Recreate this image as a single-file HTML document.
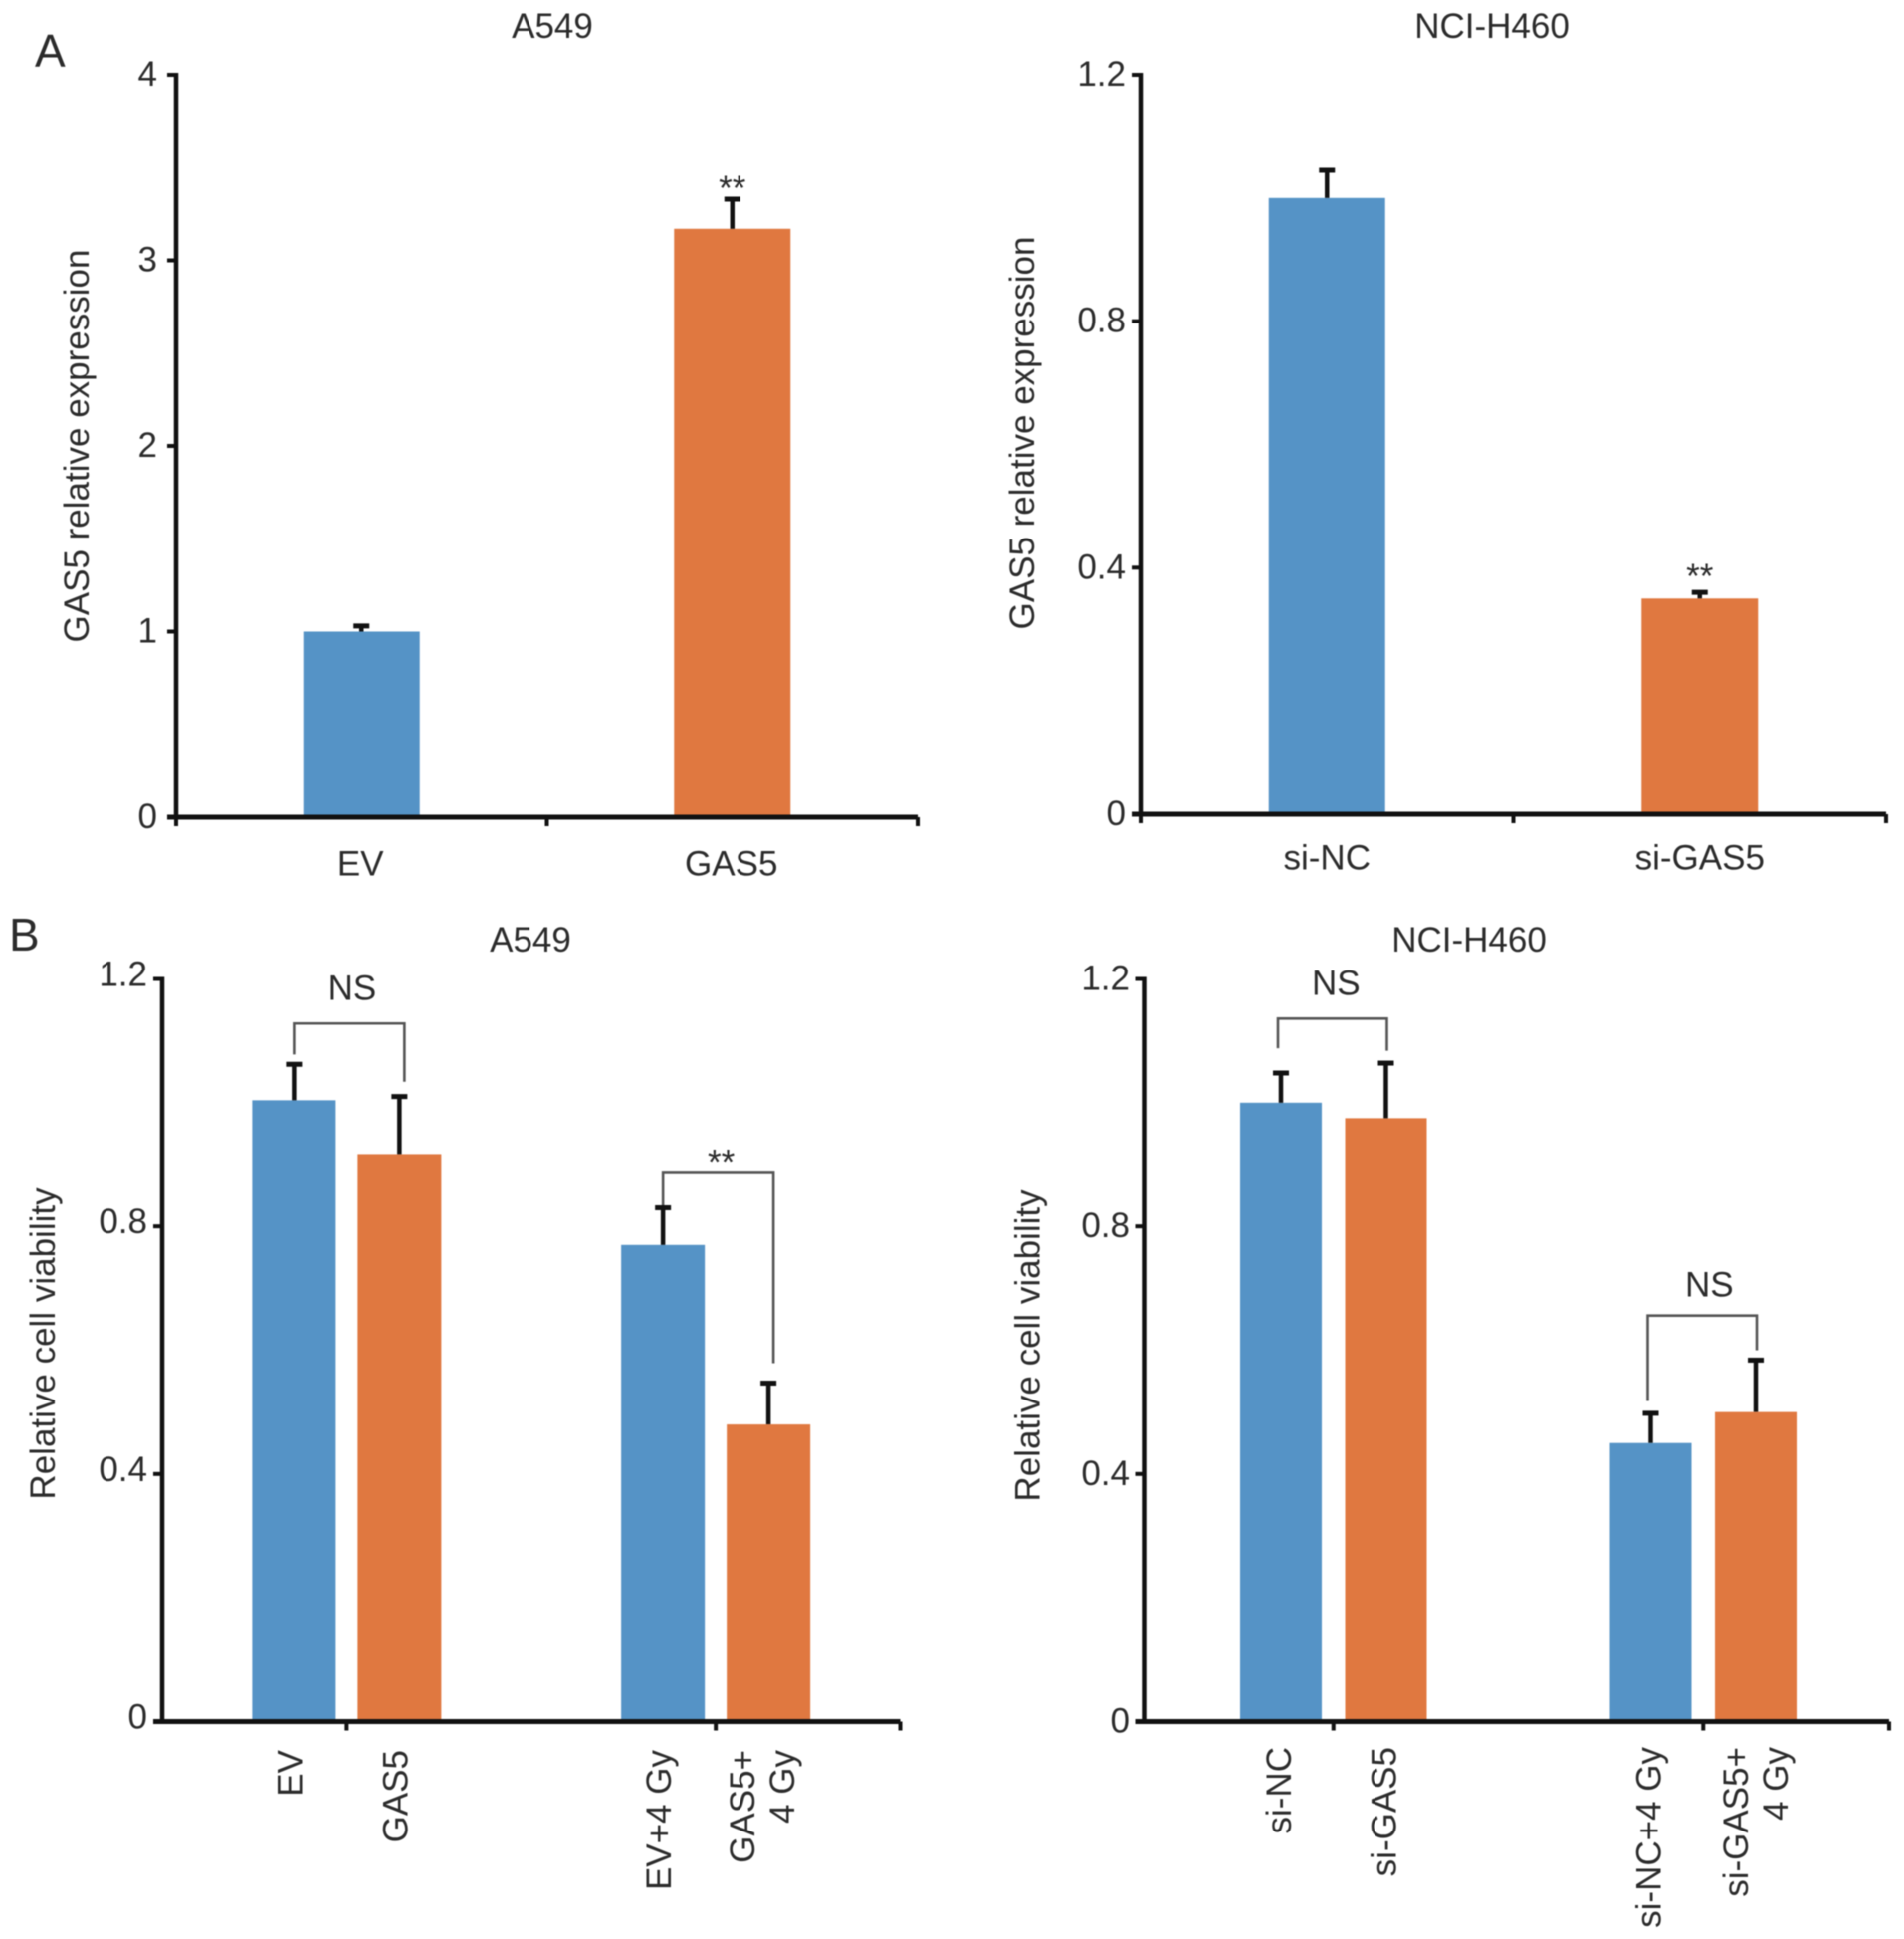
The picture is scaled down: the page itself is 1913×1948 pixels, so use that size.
<!DOCTYPE html>
<html lang="en">
<head>
<meta charset="utf-8">
<title>GAS5 expression and cell viability</title>
<style>
html,body{margin:0;padding:0;background:#fff;}
#figure{display:block;width:1913px;height:1948px;filter:blur(0.6px);}
text{font-family:"Liberation Sans",sans-serif;fill:#2b2b2b;font-size:35px;}
</style>
</head>
<body>
<svg id="figure" xmlns="http://www.w3.org/2000/svg" width="1913" height="1948" viewBox="0 0 1913 1948">
<rect x="0" y="0" width="1913" height="1948" fill="#ffffff"/>
<text x="35" y="67" style="font-size:46px">A</text>
<text x="9" y="955" style="font-size:46px">B</text>
</svg>
<script>
// Panel A, A549
const a1Categories = [["EV"], ["GAS5"]];
const a1Values = [1.0, 3.17];
const a1ErrorTops = [1.03, 3.33];
const a1Ticks = [0, 1, 2, 3, 4];
const a1TickLabels = ["0", "1", "2", "3", "4"];
const a1Marks = [{ bar: 1, text: "**" }];

// Panel A, NCI-H460
const a2Categories = [["si-NC"], ["si-GAS5"]];
const a2Values = [1.0, 0.35];
const a2ErrorTops = [1.045, 0.36];
const a2Ticks = [0, 0.4, 0.8, 1.2];
const a2TickLabels = ["0", "0.4", "0.8", "1.2"];
const a2Marks = [{ bar: 1, text: "**" }];

// Panel B, A549
const b1Categories = [["EV"], ["GAS5"], ["EV+4 Gy"], ["GAS5+", "4 Gy"]];
const b1Values = [1.004, 0.917, 0.77, 0.48];
const b1ErrorTops = [1.062, 1.01, 0.83, 0.547];
const b1Ticks = [0, 0.4, 0.8, 1.2];
const b1TickLabels = ["0", "0.4", "0.8", "1.2"];
const b1Brackets = [
  { from: 0, to: 1, top: 1.128, leftEnd: 1.078, rightEnd: 1.034, text: "NS" },
  { from: 2, to: 3, top: 0.888, leftEnd: 0.834, rightEnd: 0.579, text: "**" }
];

// Panel B, NCI-H460
const b2Categories = [["si-NC"], ["si-GAS5"], ["si-NC+4 Gy"], ["si-GAS5+", "4 Gy"]];
const b2Values = [1.0, 0.975, 0.45, 0.5];
const b2ErrorTops = [1.048, 1.064, 0.498, 0.584];
const b2Ticks = [0, 0.4, 0.8, 1.2];
const b2TickLabels = ["0", "0.4", "0.8", "1.2"];
const b2Brackets = [
  { from: 0, to: 1, top: 1.136, leftEnd: 1.088, rightEnd: 1.084, text: "NS" },
  { from: 2, to: 3, top: 0.656, leftEnd: 0.518, rightEnd: 0.6, text: "NS" }
];

const BLUE = "#5593c6";
const ORANGE = "#e07840";
const svg = document.getElementById("figure");

function make(tag, props, parent) {
  const el = document.createElementNS("http://www.w3.org/2000/svg", tag);
  for (const k in props) el.setAttribute(k, props[k]);
  (parent || svg).appendChild(el);
  return el;
}
function slug(s) {
  return String(s).toLowerCase().replace(/[^a-z0-9]+/g, "-").replace(/^-|-$/g, "");
}

function drawPanel(cfg) {
  const g = make("g", {});
  
  

  const maxTick = Math.max.apply(null, cfg.ticks);
  const y = v => cfg.y0 - (v / maxTick) * (cfg.y0 - cfg.yTop);

  // x axis functions
  const n = cfg.categories.length;
  const groupSize = cfg.grouped ? 2 : 1;
  const groups = n / groupSize;
  const band = (cfg.xEnd - cfg.xStart) / groups;
  const axisEnd = cfg.axisEnd || cfg.xEnd;
  const groupCenter = i => cfg.xStart + (i + 0.5) * band;
  const barCenter = i => {
    if (!cfg.grouped) return groupCenter(i);
    const gi = Math.floor(i / 2);
    return groupCenter(gi) + (i % 2 === 0 ? -1 : 1) * cfg.barOffset;
  };

  // title
  const title = make("text", { x: cfg.titleX, y: cfg.titleY, "text-anchor": "middle" }, g);
  
  
  title.textContent = cfg.title;

  // y axis title
  const yt = make("text", {
    transform: "translate(" + cfg.yTitleX + "," + cfg.yTitleY + ") rotate(-90)",
    "text-anchor": "middle"
  }, g);
  
  
  yt.textContent = cfg.yTitle;

  // bars
  cfg.values.forEach((v, i) => {
    const cx = barCenter(i);
    const isOrange = i % 2 === 1;
    const r = make("rect", {
      x: cx - cfg.barWidth / 2,
      y: y(v),
      width: cfg.barWidth,
      height: cfg.y0 - y(v),
      fill: isOrange ? ORANGE : BLUE
    }, g);
    
    

    const e = make("g", {}, g);
    
    
    make("line", { x1: cx, x2: cx, y1: y(v), y2: y(cfg.errorTops[i]), stroke: "#111", "stroke-width": 4.5 }, e);
    make("line", { x1: cx - 8, x2: cx + 8, y1: y(cfg.errorTops[i]), y2: y(cfg.errorTops[i]), stroke: "#111", "stroke-width": 5 }, e);
  });

  // y axis
  const yAxis = make("line", { x1: cfg.xAxis, x2: cfg.xAxis, y1: cfg.yTop - 2, y2: cfg.y0 + 2, stroke: "#111", "stroke-width": 4.5 }, g);
  
  

  cfg.ticks.forEach((t, i) => {
    const tick = make("line", { x1: cfg.xAxis - 9, x2: cfg.xAxis, y1: y(t), y2: y(t), stroke: "#111", "stroke-width": 4 }, g);
    
    
    const lab = make("text", { x: cfg.tickRight, y: y(t) + 12 + cfg.tickDy, "text-anchor": "end" }, g);
    
    
    lab.textContent = cfg.tickLabels[i];
  });

  // x axis
  const xAxis = make("line", { x1: cfg.xAxis - 9, x2: axisEnd, y1: cfg.y0, y2: cfg.y0, stroke: "#111", "stroke-width": 5 }, g);
  
  

  const tickXs = cfg.grouped
    ? [groupCenter(0), groupCenter(1), axisEnd]
    : [cfg.xStart, cfg.xStart + band, axisEnd];
  tickXs.forEach((tx, i) => {
    const tick = make("line", { x1: tx, x2: tx, y1: cfg.y0, y2: cfg.y0 + 9, stroke: "#111", "stroke-width": 4 }, g);
    
    
  });

  // category labels
  cfg.categories.forEach((lines, i) => {
    const cx = barCenter(i);
    lines.forEach((line, li) => {
      let lab;
      if (cfg.grouped) {
        const bx = cx + cfg.labelDx + li * 40 + (lines.length > 1 ? cfg.multiDx : 0);
        lab = make("text", {
          transform: "translate(" + bx + "," + cfg.labelY + ") rotate(-90)",
          "text-anchor": "end"
        }, g);
      } else {
        lab = make("text", { x: cx + cfg.labelDx, y: cfg.labelY, "text-anchor": "middle" }, g);
      }
      
      
      lab.textContent = line;
    });
  });

  // significance marks above error bars
  (cfg.marks || []).forEach(m => {
    const lab = make("text", {
      x: barCenter(m.bar),
      y: y(cfg.errorTops[m.bar]) + cfg.markDy,
      "text-anchor": "middle"
    }, g);
    
    
    lab.textContent = m.text;
  });

  // brackets
  (cfg.brackets || []).forEach((b, i) => {
    const xl = barCenter(b.from) + cfg.bracketDx[i][0];
    const xr = barCenter(b.to) + cfg.bracketDx[i][1];
    const path = make("path", {
      d: "M" + xl + " " + y(b.leftEnd) + "V" + y(b.top) + "H" + xr + "V" + y(b.rightEnd),
      fill: "none",
      stroke: "#555",
      "stroke-width": 2.6
    }, g);
    
    
    const off = cfg.bracketLabelOffset[i];
    const lab = make("text", {
      x: (xl + xr) / 2 + off[0],
      y: y(b.top) + off[1],
      "text-anchor": "middle"
    }, g);
    
    
    lab.textContent = b.text;
  });
}

drawPanel({
  id: "a-a549", title: "A549", titleX: 555, titleY: 38,
  yTitle: "GAS5 relative expression", yTitleX: 89, yTitleY: 448,
  categories: a1Categories, values: a1Values, errorTops: a1ErrorTops,
  ticks: a1Ticks, tickLabels: a1TickLabels, marks: a1Marks, markDy: 1,
  xAxis: 177, xStart: 177, xEnd: 922, yTop: 75, y0: 821,
  barWidth: 117, tickRight: 158, tickDy: -1, labelDx: -1, labelY: 879.5
});
drawPanel({
  id: "a-nci-h460", title: "NCI-H460", titleX: 1499, titleY: 38,
  yTitle: "GAS5 relative expression", yTitleX: 1039, yTitleY: 435,
  categories: a2Categories, values: a2Values, errorTops: a2ErrorTops,
  ticks: a2Ticks, tickLabels: a2TickLabels, marks: a2Marks, markDy: -4,
  xAxis: 1146, xStart: 1146, xEnd: 1895, yTop: 75, y0: 818,
  barWidth: 117, tickRight: 1131, tickDy: -1, labelDx: 0, labelY: 873.5
});
drawPanel({
  id: "b-a549", title: "A549", titleX: 533, titleY: 956,
  yTitle: "Relative cell viability", yTitleX: 55, yTitleY: 1350,
  categories: b1Categories, values: b1Values, errorTops: b1ErrorTops,
  ticks: b1Ticks, tickLabels: b1TickLabels, brackets: b1Brackets,
  bracketDx: [[0, 5], [0, 5]], bracketLabelOffset: [[3, -24], [3, 2]],
  grouped: true, barOffset: 53,
  xAxis: 163, xStart: 163, xEnd: 904.5, yTop: 983.5, y0: 1729.5,
  barWidth: 84, tickRight: 148, tickDy: -5, labelDx: 8, multiDx: -22, labelY: 1758
});
drawPanel({
  id: "b-nci-h460", title: "NCI-H460", titleX: 1476, titleY: 956,
  yTitle: "Relative cell viability", yTitleX: 1044.5, yTitleY: 1352,
  categories: b2Categories, values: b2Values, errorTops: b2ErrorTops,
  ticks: b2Ticks, tickLabels: b2TickLabels, brackets: b2Brackets,
  bracketDx: [[-3, 1], [-3, 1]], bracketLabelOffset: [[3.5, -24], [7, -19]],
  grouped: true, barOffset: 52.75,
  xAxis: 1149.5, xStart: 1154, xEnd: 1897, axisEnd: 1898, yTop: 983.5, y0: 1729.5,
  barWidth: 82, tickRight: 1135, tickDy: -1, labelDx: 10, multiDx: -18, labelY: 1755
});
</script>
</body>
</html>
